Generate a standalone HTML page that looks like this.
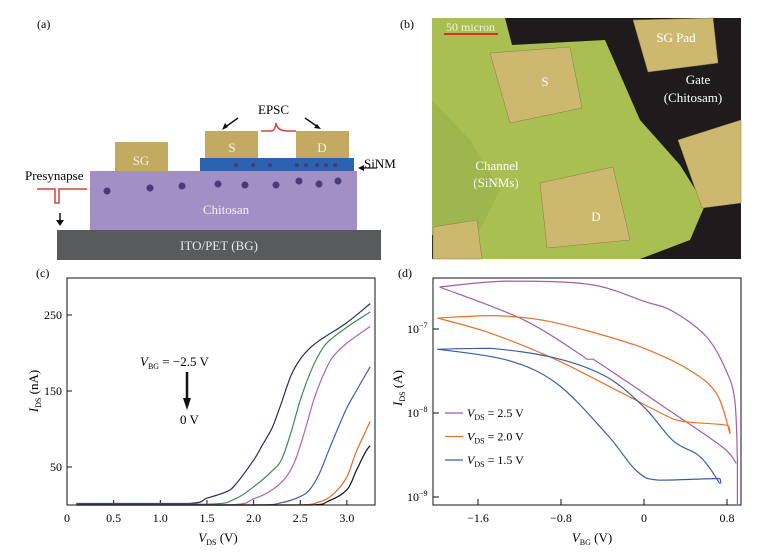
<!DOCTYPE html>
<html><head><meta charset="utf-8"><style>
body{margin:0;background:#fff}
svg{display:block;font-family:"Liberation Serif",serif}
</style></head><body>
<svg id="fig" width="783" height="554" viewBox="0 0 783 554">
<!-- Panel (a) -->
<g>
<text x="37" y="28" font-size="12">(a)</text>
<rect x="57" y="230" width="324" height="30" fill="#595a5c"/>
<text x="219" y="250" font-size="13" fill="#e8e8e8" text-anchor="middle">ITO/PET (BG)</text>
<rect x="90" y="171" width="267" height="59" fill="#a28fc6"/>
<text x="226" y="214" font-size="13" fill="#f2eefa" text-anchor="middle">Chitosan</text>
<rect x="200" y="158" width="154" height="13" fill="#2b63b0"/>
<rect x="115" y="142" width="53" height="29" fill="#c2aa63"/>
<text x="141" y="165" font-size="13" fill="#f6f0dc" text-anchor="middle">SG</text>
<rect x="205" y="131" width="53" height="27" fill="#c2aa63"/>
<text x="232" y="152" font-size="13" fill="#f6f0dc" text-anchor="middle">S</text>
<rect x="296" y="131" width="53" height="27" fill="#c2aa63"/>
<text x="322" y="152" font-size="13" fill="#f6f0dc" text-anchor="middle">D</text>
<g fill="#4a3a78">
<circle cx="107" cy="191" r="3.5"/><circle cx="150" cy="188" r="3.5"/><circle cx="182" cy="186" r="3.5"/><circle cx="218" cy="184" r="3.5"/><circle cx="245" cy="185" r="3.5"/><circle cx="276" cy="185" r="3.5"/><circle cx="299" cy="181" r="3.5"/><circle cx="319" cy="184" r="3.5"/><circle cx="338" cy="181" r="3.5"/>
<circle cx="236" cy="165" r="2"/><circle cx="253" cy="165" r="2"/><circle cx="270" cy="165" r="2"/><circle cx="297" cy="165" r="2"/><circle cx="306" cy="165" r="2"/><circle cx="317" cy="165" r="2"/><circle cx="326" cy="165" r="2"/><circle cx="335" cy="165" r="2"/>
</g>
<text x="258" y="114" font-size="13">EPSC</text>
<path d="M261,131 h10 q4,0 5,-8 q1,8 12,8 h8" fill="none" stroke="#d6403f" stroke-width="1.5"/>
<path d="M238,118 L224,128" stroke="#111" stroke-width="1.5"/><path d="M222,130 l3,-7 l3,4z" fill="#111"/>
<path d="M305,118 L318,127" stroke="#111" stroke-width="1.5"/><path d="M321,129 l-7,-1 l3,-4z" fill="#111"/>
<text x="364" y="168" font-size="13">SiNM</text>
<path d="M377,168 L362,168" stroke="#111" stroke-width="1.2"/><path d="M358,168 l6,-3 v6z" fill="#111"/>
<text x="25" y="180" font-size="13">Presynapse</text>
<path d="M37,189 h18 v14 h4 v-14 h28" fill="none" stroke="#d6403f" stroke-width="1.5"/>
<path d="M60,213 v9" stroke="#111" stroke-width="1.5"/><path d="M56,220 h8 l-4,6z" fill="#111"/>
</g>
<!-- Panel (b) -->
<g>
<text x="400" y="28" font-size="12">(b)</text>
<rect x="432" y="18" width="309" height="241" fill="#1f1b1d"/>
<polygon points="432,18 505,18 512,45 605,40 640,120 680,165 705,205 690,240 640,259 482,259 470,235 432,235" fill="#a9bf52"/>
<polygon points="432,100 470,140 500,190 480,230 432,225" fill="#98b04c" opacity="0.6"/>
<g fill="#cdb870" stroke="#8a7d45" stroke-width="0.5">
<polygon points="490,53 570,47 582,108 510,123"/>
<polygon points="540,183 613,167 630,240 547,248"/>
<polygon points="633,20 713,18 718,63 648,72"/>
<polygon points="678,140 741,120 741,203 702,208"/>
<polygon points="433,227 477,220 482,259 433,259"/>
</g>
<text x="446" y="31" font-size="12" fill="#f4f0e0">50 micron</text>
<line x1="444" y1="34" x2="498" y2="34" stroke="#d6303a" stroke-width="2"/>
<text x="545" y="86" font-size="13" fill="#fff" text-anchor="middle">S</text>
<text x="596" y="221" font-size="13" fill="#fff" text-anchor="middle">D</text>
<text x="676" y="42" font-size="13" fill="#fff" text-anchor="middle">SG Pad</text>
<text x="698" y="84" font-size="13" fill="#fff" text-anchor="middle">Gate</text>
<text x="693" y="102" font-size="13" fill="#fff" text-anchor="middle">(Chitosam)</text>
<text x="497" y="170" font-size="13" fill="#fff" text-anchor="middle">Channel</text>
<text x="496" y="187" font-size="13" fill="#fff" text-anchor="middle">(SiNMs)</text>
</g>
<!-- Panel (c) -->
<g id="pc">
<text x="36" y="277" font-size="12">(c)</text>
<rect x="67" y="278" width="308" height="227" fill="none" stroke="#111" stroke-width="1"/>
<text x="140" y="366" font-size="13"><tspan font-style="italic">V</tspan><tspan font-size="8" dy="3">BG</tspan><tspan dy="-3"> = −2.5 V</tspan></text>
<line x1="187" y1="372" x2="187" y2="400" stroke="#111" stroke-width="2.5"/>
<path d="M183,398 h8 l-4,12z" fill="#111"/>
<text x="180" y="424" font-size="13">0 V</text>
<text x="218" y="542" font-size="13" text-anchor="middle"><tspan font-style="italic">V</tspan><tspan font-size="8" dy="3">DS</tspan><tspan dy="-3"> (V)</tspan></text>
<text transform="translate(38,391) rotate(-90)" font-size="13" text-anchor="middle"><tspan font-style="italic">I</tspan><tspan font-size="8" dy="3">DS</tspan><tspan dy="-3"> (nA)</tspan></text>
</g>
<!-- Panel (d) -->
<g id="pd">
<text x="398" y="277" font-size="12">(d)</text>
<rect x="433" y="278" width="308" height="227" fill="none" stroke="#111" stroke-width="1"/>
<text x="592" y="542" font-size="13" text-anchor="middle"><tspan font-style="italic">V</tspan><tspan font-size="8" dy="3">BG</tspan><tspan dy="-3"> (V)</tspan></text>
<text transform="translate(402,388) rotate(-90)" font-size="13" text-anchor="middle"><tspan font-style="italic">I</tspan><tspan font-size="8" dy="3">DS</tspan><tspan dy="-3"> (A)</tspan></text>
</g>
</svg>
<script>
// Panel (c) data: V_DS (V) vs I_DS (nA)
const cXTicks=[0,0.5,1.0,1.5,2.0,2.5,3.0];
const cXTickLabels=["0","0.5","1.0","1.5","2.0","2.5","3.0"];
const cYTicks=[50,150,250];
const cColors=["#2a2d5e","#3a8a55","#b062b8","#3d5fa8","#e0682a","#111111"];
const cSeriesVds=[
 [0.1,1.3,1.5,1.7,1.8,2.0,2.1,2.2,2.3,2.4,2.5,2.6,2.7,2.8,3.0,3.25],
 [0.1,1.5,1.8,2.0,2.2,2.3,2.4,2.5,2.6,2.7,2.8,3.0,3.25],
 [0.1,1.7,2.0,2.2,2.35,2.45,2.55,2.65,2.75,2.85,3.0,3.25],
 [0.1,2.0,2.3,2.5,2.6,2.7,2.8,2.9,3.0,3.1,3.25],
 [0.1,2.4,2.7,2.86,3.0,3.1,3.25],
 [0.1,2.6,2.8,3.0,3.1,3.2,3.25]];
const cSeriesIds=[
 [2,2,9,17,26,59,80,102,135,170,192,206,216,224,240,265],
 [1,1,8,24,45,60,95,138,172,198,215,234,254],
 [0.5,0,8,20,37,60,98,140,172,195,213,235],
 [0.5,0,3,11,20,40,70,100,128,150,182],
 [0,0,4,15,37,70,110],
 [0,0,5,20,45,70,78]];
// Panel (d) data: V_BG (V) vs log10 I_DS (A)
const dXTicks=[-1.6,-0.8,0,0.8];
const dXTickLabels=["−1.6","−0.8","0","0.8"];
const dYTicks=[-7,-8,-9];
const dLegend=["2.5","2.0","1.5"];
const dColors=["#a15cb5","#e8712c","#3a5ea6"];
const dFwdV=[
 [-1.97,-1.32,-0.52,0,0.28,0.6,0.79,0.875,0.9,0.9],
 [-1.99,-1.48,-1.0,-0.52,0,0.44,0.7,0.83],
 [-1.99,-1.48,-0.84,-0.36,0,0.28,0.51,0.63,0.73]];
const dFwdLog=[
 [-6.5,-6.43,-6.47,-6.67,-6.79,-7.09,-7.49,-7.85,-8.57,-9.1],
 [-6.87,-6.84,-6.89,-7.03,-7.23,-7.49,-7.77,-8.25],
 [-7.24,-7.23,-7.35,-7.57,-7.93,-8.33,-8.49,-8.65,-8.84]];
const dRevV=[
 [-1.97,-1.16,-0.58,-0.55,-0.49,0.28,0.76,0.89],
 [-1.99,-1.48,-0.84,-0.2,0.28,0.44,0.81,0.83],
 [-1.99,-1.32,-0.84,-0.36,-0.07,0.15,0.73,0.74]];
const dRevLog=[
 [-6.5,-6.89,-7.33,-7.36,-7.36,-8.0,-8.41,-8.6],
 [-6.87,-7.05,-7.37,-7.77,-8.07,-8.11,-8.15,-8.25],
 [-7.24,-7.37,-7.65,-8.25,-8.69,-8.8,-8.78,-8.84]];

const NS="http://www.w3.org/2000/svg";
function mk(parent,tag,attrs){const e=document.createElementNS(NS,tag);for(const k in attrs)e.setAttribute(k,attrs[k]);parent.appendChild(e);return e;}
const cx=v=>67+93.3*v, cy=n=>505-0.76*n;
const dx=v=>644+103.75*v, dy=l=>329+84*(-7-l);
const pc=document.getElementById('pc'), pd=document.getElementById('pd');
const clamp=(v,a,b)=>Math.max(Math.min(a,b),Math.min(Math.max(a,b),v));
function smooth(pts){
 let d='M'+pts[0][0].toFixed(1)+','+pts[0][1].toFixed(1);
 for(let i=0;i<pts.length-1;i++){
  const p0=pts[Math.max(0,i-1)],p1=pts[i],p2=pts[i+1],p3=pts[Math.min(pts.length-1,i+2)];
  const c1x=clamp(p1[0]+(p2[0]-p0[0])/6,p1[0],p2[0]),c1y=clamp(p1[1]+(p2[1]-p0[1])/6,p1[1],p2[1]);
  const c2x=clamp(p2[0]-(p3[0]-p1[0])/6,p1[0],p2[0]),c2y=clamp(p2[1]-(p3[1]-p1[1])/6,p1[1],p2[1]);
  d+=' C'+c1x.toFixed(1)+','+c1y.toFixed(1)+' '+c2x.toFixed(1)+','+c2y.toFixed(1)+' '+p2[0].toFixed(1)+','+p2[1].toFixed(1);
 }
 return d;
}

cXTicks.forEach((t,i)=>{
 const l=mk(pc,'line',{x1:cx(t),x2:cx(t),y1:505,y2:500,stroke:'#111'});
 
 
 const tx=mk(pc,'text',{x:cx(t),y:522,'font-size':12,'text-anchor':'middle'});
 tx.textContent=cXTickLabels[i];
 
 
});
cYTicks.forEach(t=>{
 const l=mk(pc,'line',{x1:67,x2:72,y1:cy(t),y2:cy(t),stroke:'#111'});
 
 
 const tx=mk(pc,'text',{x:62,y:cy(t)+4,'font-size':12,'text-anchor':'end'});
 tx.textContent=String(t);
 
 
});
cSeriesVds.forEach((xs,i)=>{
 const pts=xs.map((v,j)=>[cx(v),cy(cSeriesIds[i][j])]);
 const p=mk(pc,'path',{d:smooth(pts),fill:'none',stroke:cColors[i],'stroke-width':1.2});
 
 
});

dXTicks.forEach((t,i)=>{
 const l=mk(pd,'line',{x1:dx(t),x2:dx(t),y1:505,y2:499,stroke:'#111'});
 
 
 const tx=mk(pd,'text',{x:dx(t),y:522,'font-size':12,'text-anchor':'middle'});
 tx.textContent=dXTickLabels[i];
 
 
});
dYTicks.forEach(t=>{
 const l=mk(pd,'line',{x1:433,x2:439,y1:dy(t),y2:dy(t),stroke:'#111'});
 
 
 const tx=mk(pd,'text',{x:407,y:dy(t)+4,'font-size':12});
 tx.innerHTML='10<tspan font-size="8" dy="-5">−'+(-t)+'</tspan>';
 
 
});
function dPath(xs,ls){return smooth(xs.map((v,j)=>[dx(v),dy(ls[j])]));}
dFwdV.forEach((xs,i)=>{
 const p=mk(pd,'path',{d:dPath(xs,dFwdLog[i]),fill:'none',stroke:dColors[i],'stroke-width':1.2});
 
 
 const q=mk(pd,'path',{d:dPath(dRevV[i],dRevLog[i]),fill:'none',stroke:dColors[i],'stroke-width':1.2});
 
 
});
dLegend.forEach((v,i)=>{
 const y=413+23.5*i;
 const l=mk(pd,'line',{x1:445,x2:463,y1:y,y2:y,stroke:dColors[i],'stroke-width':1.2});
 
 
 const t=mk(pd,'text',{x:467,y:y+4,'font-size':12});
 t.innerHTML='<tspan font-style="italic">V</tspan><tspan font-size="8" dy="3">DS</tspan><tspan dy="-3"> = '+v+' V</tspan>';
 
 
});
</script>
</body></html>
